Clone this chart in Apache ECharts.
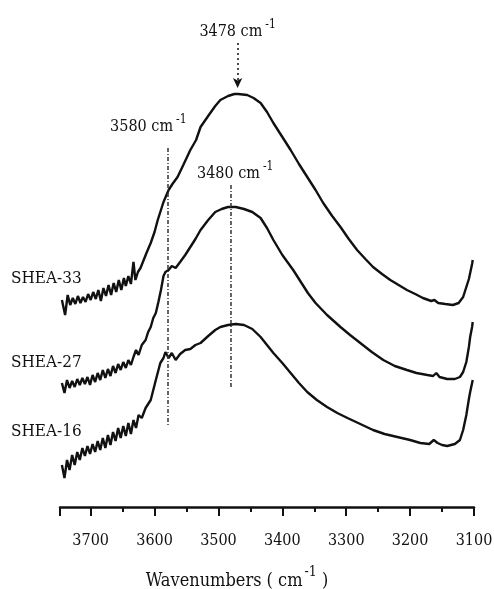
<!DOCTYPE html>
<html>
<head>
<meta charset="utf-8">
<script src="https://cdn.jsdelivr.net/npm/echarts@6/dist/echarts.min.js"></script>
<style>
  html, body { margin: 0; padding: 0; background: #fff; }
  #main { width: 494px; height: 589px; }
</style>
</head>
<body>
<div id="main"></div>
<script>
  // tick labels of the wavenumber axis (cm-1)
  var xTicks = [3100, 3200, 3300, 3400, 3500, 3600, 3700]

  // absorbance, arbitrary units (offset spectra) : [wavenumber, value]
  var shea33 = [
    [3745, 207], [3740, 192], [3736, 212], [3732, 202], [3728, 209], [3724, 203], [3720, 211],
    [3716, 204], [3712, 210], [3708, 205], [3704, 213], [3700, 207], [3696, 215], [3692, 208],
    [3688, 217], [3684, 206], [3680, 219], [3676, 211], [3672, 222], [3668, 212], [3664, 224],
    [3660, 215], [3656, 227], [3652, 217], [3648, 229], [3645, 221], [3641, 231], [3637, 223],
    [3633, 245], [3630, 227], [3626, 235], [3622, 239], [3617, 247], [3612, 255], [3606, 264],
    [3600, 275], [3595, 287], [3590, 297], [3586, 305], [3582, 311], [3578, 317], [3572, 323],
    [3564, 330], [3555, 342], [3544, 357], [3535, 367], [3528, 380], [3515, 392], [3505, 401],
    [3497, 407], [3485, 411], [3475, 413], [3469, 413], [3455, 412], [3445, 409], [3434, 404],
    [3424, 395], [3414, 384], [3400, 370], [3387, 357], [3374, 343], [3361, 330], [3348, 317],
    [3336, 304], [3322, 291], [3309, 280], [3296, 268], [3283, 257], [3270, 248], [3258, 240],
    [3244, 233], [3231, 227], [3218, 222], [3205, 217], [3192, 213], [3180, 209], [3167, 206],
    [3162, 207], [3156, 204], [3145, 203], [3133, 202], [3124, 204], [3117, 210], [3112, 220],
    [3108, 228], [3106, 234], [3103, 243], [3102, 247]
  ]
  var shea27 = [
    [3745, 124], [3741, 114], [3737, 127], [3733, 119], [3729, 126], [3725, 120], [3721, 128],
    [3717, 122], [3713, 129], [3709, 123], [3705, 130], [3701, 122], [3697, 132], [3693, 125],
    [3689, 134], [3685, 127], [3681, 137], [3677, 129], [3673, 138], [3669, 131], [3665, 141],
    [3661, 134], [3657, 143], [3653, 137], [3649, 145], [3645, 139], [3641, 147], [3637, 142],
    [3633, 150], [3629, 157], [3625, 152], [3620, 162], [3614, 167], [3610, 175], [3606, 180],
    [3602, 189], [3598, 194], [3594, 205], [3590, 217], [3586, 231], [3583, 235], [3578, 237],
    [3573, 241], [3567, 239], [3560, 245], [3552, 252], [3544, 260], [3536, 268], [3528, 277],
    [3516, 287], [3505, 295], [3495, 298], [3485, 300], [3473, 300], [3460, 298], [3447, 295],
    [3434, 289], [3424, 279], [3414, 267], [3400, 252], [3383, 237], [3370, 224], [3360, 214],
    [3348, 204], [3330, 192], [3309, 180], [3294, 172], [3278, 164], [3260, 155], [3242, 147],
    [3224, 141], [3205, 137], [3190, 134], [3173, 132], [3164, 131], [3159, 134], [3154, 130],
    [3142, 128], [3130, 128], [3122, 130], [3117, 135], [3112, 145], [3108, 160], [3106, 170],
    [3103, 180], [3102, 185]
  ]
  var shea16 = [
    [3745, 42], [3741, 29], [3737, 47], [3733, 37], [3729, 52], [3725, 42], [3721, 55],
    [3717, 47], [3713, 59], [3709, 51], [3705, 61], [3701, 53], [3697, 63], [3693, 55],
    [3689, 66], [3685, 57], [3681, 69], [3677, 59], [3673, 72], [3669, 62], [3665, 75],
    [3661, 66], [3657, 79], [3653, 69], [3649, 81], [3645, 71], [3641, 84], [3637, 73],
    [3633, 87], [3629, 79], [3625, 92], [3620, 89], [3614, 99], [3606, 107], [3598, 127],
    [3591, 144], [3586, 149], [3583, 155], [3578, 149], [3573, 154], [3567, 147], [3560, 153],
    [3552, 157], [3544, 158], [3536, 162], [3528, 164], [3516, 171], [3505, 177], [3497, 180],
    [3485, 182], [3473, 183], [3460, 182], [3447, 178], [3434, 170], [3424, 162], [3414, 154],
    [3400, 144], [3387, 134], [3374, 124], [3361, 115], [3346, 107], [3330, 100], [3314, 94],
    [3298, 89], [3278, 83], [3258, 77], [3240, 73], [3220, 70], [3200, 67], [3184, 64],
    [3170, 63], [3163, 67], [3157, 64], [3150, 62], [3142, 61], [3130, 63], [3122, 67],
    [3117, 77], [3112, 92], [3108, 108], [3106, 115], [3102, 127]
  ]

  // peak markers: position, label, top and bottom of the guide line
  var peakNames = ['3478', '3580', '3480']
  var peakPos = [3470, 3580, 3480]
  var peakTop = [464, 359, 322]
  var peakBottom = [419, 80, 120]

  var myChart = echarts.init(document.getElementById('main'))
  var serif = "'DejaVu Serif Condensed', 'Liberation Serif', serif"
  var ink = '#111'

  var supRich = {
    n: { fontFamily: serif, fontSize: 16, color: ink },
    s: { fontFamily: serif, fontSize: 12, color: ink, padding: [0, 0, 14, 3] }
  }
  // label gap above the line and left/right padding (moves the text sideways)
  var labelGap = [-2, 8, -2]
  var labelPad = [[0, 0, 0, 0], [0, 38, 0, 0], [0, 0, 0, 8]]

  function peakLine(i) {
    return [
      {
        coord: [peakPos[i], peakTop[i]],
        label: {
          show: true,
          position: 'start',
          distance: labelGap[i],
          padding: labelPad[i],
          formatter: '{n|' + peakNames[i] + ' cm}{s|-1}',
          rich: supRich
        }
      },
      { coord: [peakPos[i], peakBottom[i]] }
    ]
  }

  function curve(name, data, marks) {
    var s = {
      name: name,
      type: 'line',
      data: data,
      symbol: 'none',
      smooth: false,
      lineStyle: { color: ink, width: 2.4 },
      z: 3
    }
    if (marks) s.markLine = marks
    return s
  }

  var option = {
    animation: false,
    backgroundColor: '#fff',
    grid: { left: 60, right: 20, top: 7, bottom: 82, containLabel: false, outerBoundsMode: 'none' },
    xAxis: {
      type: 'value',
      min: 3100,
      max: 3748,
      interval: 100,
      inverse: true,
      axisLine: { show: true, lineStyle: { color: ink, width: 2.5 } },
      axisTick: { show: true, length: 9, lineStyle: { color: ink, width: 2 } },
      minorTick: { show: true, splitNumber: 2, length: 5, lineStyle: { color: ink, width: 2 } },
      splitLine: { show: false },
      axisLabel: {
        margin: 26,
        fontFamily: serif,
        fontSize: 16,
        color: ink,
        formatter: function (v) { return xTicks.indexOf(v) >= 0 ? String(v) : '' }
      },
      name: '{n|Wavenumbers ( cm}{s|-1}{n| )}',
      nameLocation: 'middle',
      nameGap: 58,
      nameTextStyle: {
        padding: [0, 60, 0, 0],
        rich: {
          n: { fontFamily: serif, fontSize: 18, color: ink },
          s: { fontFamily: serif, fontSize: 14, color: ink, padding: [0, 0, 18, 2] }
        }
      }
    },
    yAxis: {
      type: 'value',
      min: 0,
      max: 500,
      show: false
    },
    series: [
      curve('SHEA-33', shea33, {
        silent: true,
        symbol: ['none', 'arrow'],
        symbolSize: [7, 10],
        lineStyle: { color: ink, type: [2, 3], width: 1.5 },
        data: [peakLine(0)]
      }),
      curve('SHEA-27', shea27, {
        silent: true,
        symbol: 'none',
        lineStyle: { color: '#333', type: [4, 2, 1, 2], width: 1.5 },
        data: [peakLine(1), peakLine(2)]
      }),
      curve('SHEA-16', shea16)
    ],
    graphic: [
      { type: 'text', left: 11, top: 270, style: { text: 'SHEA-33', font: '17px ' + serif, fill: ink } },
      { type: 'text', left: 11, top: 354, style: { text: 'SHEA-27', font: '17px ' + serif, fill: ink } },
      { type: 'text', left: 11, top: 423, style: { text: 'SHEA-16', font: '17px ' + serif, fill: ink } }
    ]
  }

  myChart.setOption(option)
  window.addEventListener('resize', function () {
    myChart.resize()
  })
</script>
</body>
</html>
